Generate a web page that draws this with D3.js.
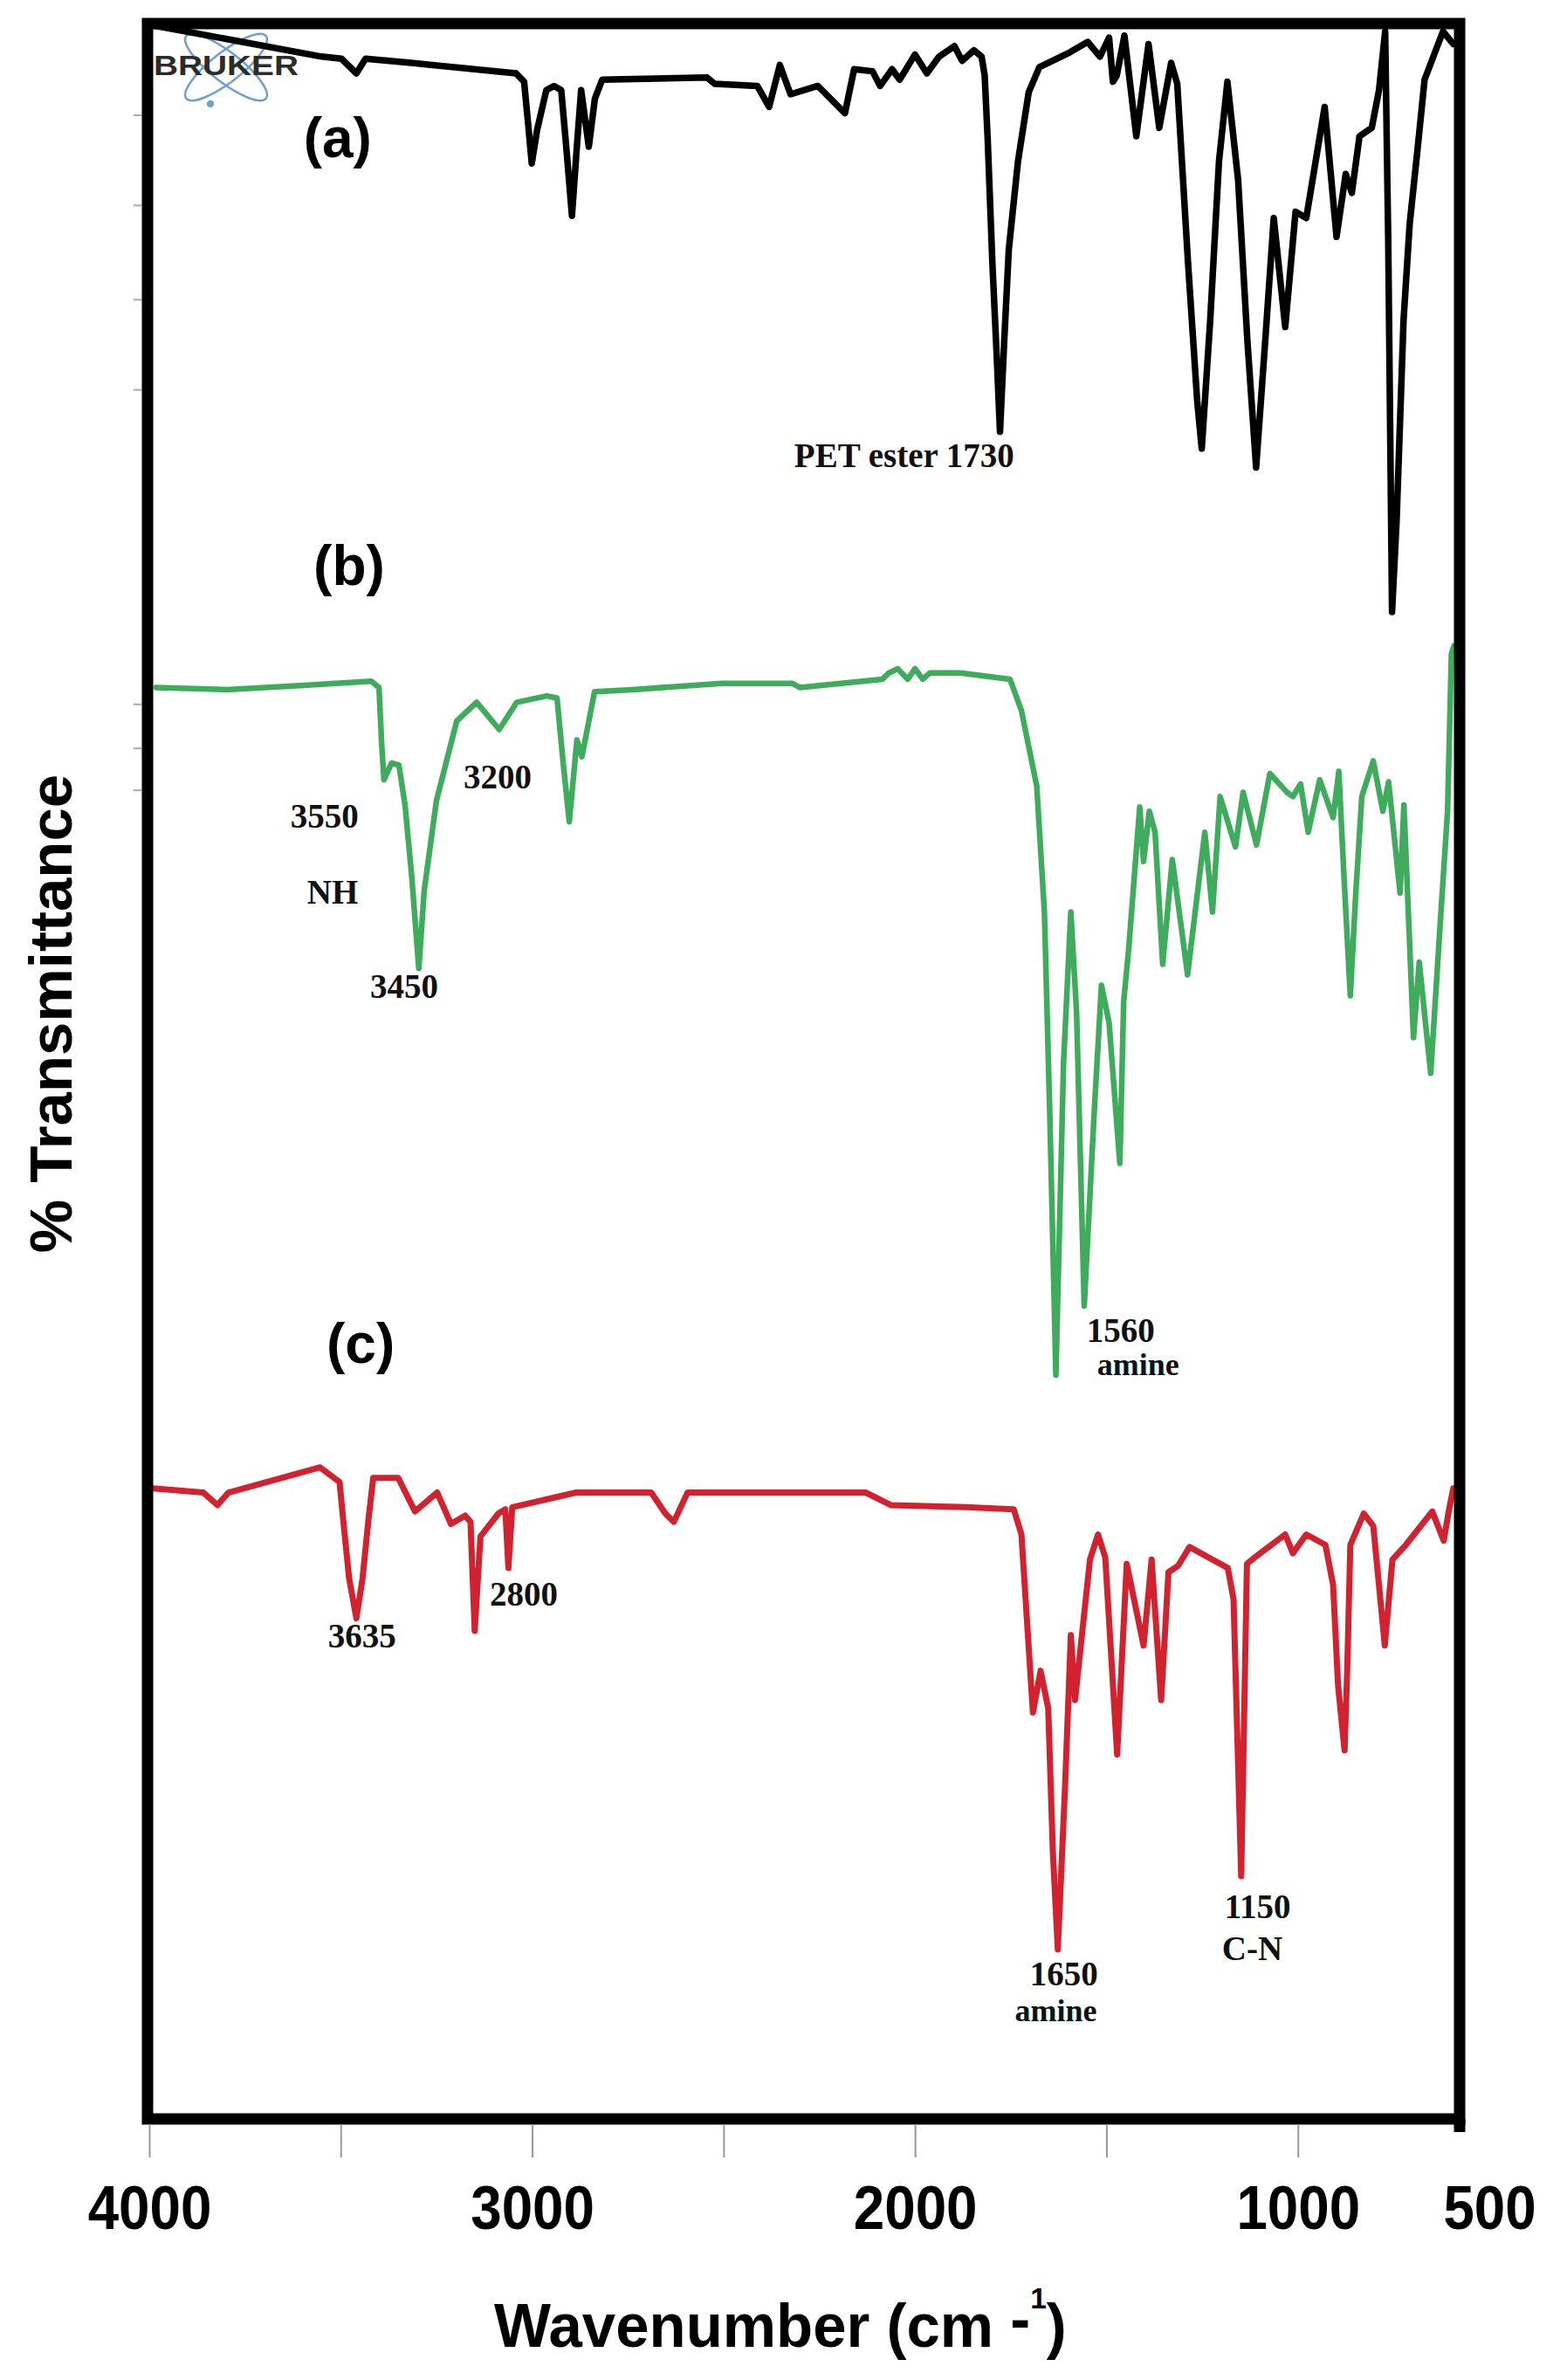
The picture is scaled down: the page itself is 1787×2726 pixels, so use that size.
<!DOCTYPE html>
<html>
<head>
<meta charset="utf-8">
<style>
  body { margin: 0; background: #fff; }
  svg { display: block; background: #fff; }
  .tick-label { font: bold 70px "Liberation Sans", Arial, sans-serif; fill: #000; }
  .axis-title { font: bold 70px "Liberation Sans", Arial, sans-serif; fill: #000; }
  .panel { font: bold 64px "Liberation Sans", Arial, sans-serif; fill: #000; }
  .note { font: bold 39px "Liberation Serif", "Times New Roman", serif; fill: #111; }
  .spec { fill: none; stroke-linejoin: round; stroke-linecap: round; }
</style>
<script src="https://cdn.jsdelivr.net/npm/d3@7/dist/d3.min.js"></script>
</head>
<body>
<svg width="1787" height="2726"></svg>
<script>
// (a) PET, offset transmittance
var wnA = [3994, 3550, 3498, 3459, 3435, 3316, 3042, 3021, 3011, 3001, 2987, 2963, 2943, 2924, 2910, 2896, 2884, 2872, 2852, 2836,
           2817, 2543, 2523, 2412, 2381, 2353, 2325, 2254, 2183, 2159, 2111, 2091, 2060, 2040, 2000, 1969, 1937, 1897, 1877, 1846,
           1826, 1818, 1810, 1798, 1786, 1778, 1767, 1755, 1731, 1703, 1675, 1596, 1549, 1517, 1493, 1483, 1473, 1453, 1422, 1390,
           1362, 1331, 1315, 1287, 1263, 1251, 1229, 1206, 1184, 1156, 1132, 1109, 1085, 1063, 1033, 1006, 978, 930, 899, 875,
           859, 839, 807, 788, 772, 764, 754, 742, 724, 708, 685, 669, 621, 594];
var tA = [99.8, 98.3, 98.2, 97.5, 98.2, 98.0, 97.5, 97.1, 95.2, 93.2, 94.8, 96.7, 96.9, 96.7, 93.8, 90.7, 93.8, 96.7, 94.0, 96.3,
          97.2, 97.3, 97.0, 96.9, 95.9, 97.9, 96.5, 96.9, 95.6, 97.7, 97.6, 96.9, 97.7, 97.2, 98.4, 97.5, 98.3, 98.8, 98.1, 98.6,
          98.3, 97.4, 94.3, 88.5, 83.8, 80.4, 84.7, 89.1, 93.3, 96.6, 97.8, 98.5, 99.0, 98.3, 99.2, 97.1, 97.4, 99.3, 94.5, 98.9,
          94.9, 98.0, 97.0, 88.5, 81.9, 79.6, 85.7, 93.3, 97.1, 92.4, 84.8, 78.7, 84.8, 90.6, 85.4, 90.9, 90.6, 95.9, 89.7, 92.7,
          91.8, 94.5, 94.9, 96.7, 99.5, 89.6, 71.8, 76.2, 85.7, 90.3, 94.3, 97.2, 99.5, 98.9];

// (b)
var wnB = [3982, 3799, 3597, 3420, 3400, 3393, 3387, 3367, 3348, 3332, 3315, 3296, 3282, 3250, 3197, 3145, 3086, 3040, 2962, 2935,
           2920, 2903, 2883, 2870, 2837, 2739, 2504, 2320, 2301, 2085, 2068, 2045, 2019, 2000, 1980, 1961, 1882, 1752, 1722, 1682,
           1662, 1648, 1632, 1612, 1593, 1578, 1558, 1532, 1513, 1493, 1465, 1455, 1442, 1413, 1403, 1388, 1373, 1353, 1328, 1288,
           1243, 1223, 1203, 1163, 1143, 1108, 1073, 1028, 1013, 993, 973, 943, 908, 893, 879, 863, 849, 833, 803, 778,
           763, 733, 723, 698, 683, 653, 628, 609, 599, 592];
var tB = [68.2, 68.1, 68.3, 68.5, 68.2, 65.5, 63.8, 64.6, 64.5, 62.6, 59.3, 54.8, 58.5, 62.8, 66.6, 67.5, 66.2, 67.5, 67.8, 67.7,
          64.8, 61.8, 65.7, 64.9, 68.0, 68.1, 68.4, 68.4, 68.2, 68.6, 68.9, 69.1, 68.6, 69.1, 68.6, 68.9, 68.9, 68.6, 67.1, 63.5,
          57.5, 47.9, 35.4, 50.3, 57.5, 52.7, 38.7, 47.9, 54.0, 52.2, 45.5, 53.2, 55.7, 62.5, 59.9, 62.3, 61.3, 55.0, 60.0, 54.5,
          61.3, 57.5, 63.0, 60.6, 63.2, 60.7, 64.1, 63.2, 63.0, 63.6, 61.3, 63.8, 62.0, 64.2, 59.0, 53.5, 58.3, 63.0, 64.7, 62.3,
          63.7, 58.4, 62.6, 51.5, 55.1, 49.8, 57.0, 62.3, 69.8, 70.2];

// (c)
var wnC = [3990, 3859, 3822, 3793, 3554, 3503, 3494, 3478, 3459, 3443, 3427, 3415, 3350, 3306, 3248, 3212, 3175, 3161, 3150, 3135,
           3088, 3070, 3062, 3052, 2885, 2689, 2652, 2630, 2594, 2129, 2063, 1867, 1742, 1722, 1692, 1672, 1652, 1640, 1627, 1608,
           1593, 1582, 1543, 1522, 1503, 1472, 1447, 1403, 1382, 1357, 1338, 1313, 1283, 1183, 1168, 1148, 1133, 1113, 1033, 1013,
           978, 928, 908, 895, 878, 871, 863, 828, 803, 773, 753, 718, 649, 619, 605, 594];
var tC = [30.0, 29.8, 29.2, 29.8, 31.0, 30.3, 28.6, 25.7, 23.8, 25.7, 28.6, 30.5, 30.5, 28.9, 29.8, 28.3, 28.7, 28.4, 23.2, 27.7,
          28.8, 29.0, 26.2, 29.1, 29.8, 29.8, 28.8, 28.4, 29.8, 29.8, 29.2, 29.1, 29.0, 27.8, 19.3, 21.3, 19.5, 12.7, 8.0, 15.8,
          23.0, 19.9, 26.6, 27.8, 26.7, 17.3, 26.4, 22.5, 26.6, 19.9, 26.0, 26.3, 27.2, 26.2, 24.7, 11.5, 26.4, 26.7, 27.8, 26.9,
          27.8, 27.3, 25.4, 20.6, 17.5, 21.4, 27.3, 28.8, 28.2, 22.5, 26.6, 27.3, 28.9, 27.5, 29.0, 30.0];

var xTickMarks = [4000, 3500, 3000, 2500, 2000, 1500, 1000];
var xTickLabels = [4000, 3000, 2000, 1000, 500];
var leftTicks = [95.5, 91.2, 86.7, 82.4, 67.4, 65.3, 63.3];

// peak notes: text, wavenumber, transmittance (where the text sits)
var noteText = ["PET ester 1730", "3550", "NH", "3450", "3200", "1560", "amine", "3635", "2800", "1650", "amine", "1150", "C-N"];
var noteWn   = [2028, 3542, 3521, 3334, 3090, 1463, 1417, 3444, 3022, 1611, 1632, 1105, 1119];
var noteT    = [78.7, 61.5, 57.9, 53.4, 63.4, 37.0, 35.4, 22.4, 24.4, 6.3, 4.6, 9.5, 7.5];
var noteSize = [39, 39, 39, 39, 39, 39, 36, 39, 39, 39, 36, 39, 39];

var panelText = ["(a)", "(b)", "(c)"];
var panelWn   = [3508, 3478, 3448];
var panelT    = [93.5, 73.1, 36.0];

var svg = d3.select("svg");

var frameL = 169, frameR = 1672, frameT = 27, frameB = 2427;

var x = d3.scaleLinear().domain([4000, 500]).range([171, 1706]);
var y = d3.scaleLinear().domain([0, 100]).range([2425, 24]);

// bruker logo
var logo = svg.append("g").attr("transform", "translate(259,77)");
[38, -38].forEach(function(a) {
    logo.append("ellipse")
        .attr("rx", 58).attr("ry", 17)
        .attr("transform", "rotate(" + a + ")")
        .attr("fill", "none")
        .attr("stroke", "#6f9fca")
        .attr("stroke-width", 2.5);
});
logo.append("circle").attr("cx", -18).attr("cy", 42).attr("r", 4).attr("fill", "#6f9fca");
svg.append("text")
   .attr("x", 176).attr("y", 86)
   .attr("textLength", 166)
   .attr("lengthAdjust", "spacingAndGlyphs")
   .style("font", "bold 31px 'Liberation Sans', Arial, sans-serif")
   .style("fill", "#2b2b2b")
   .text("BRUKER");

var line = d3.line()
    .x(function(d) { return x(d[0]); })
    .y(function(d) { return y(d[1]); });

var series = [
    { w: wnA, t: tA, color: "#000000", width: 7.5 },
    { w: wnB, t: tB, color: "#3fab5c", width: 6.5 },
    { w: wnC, t: tC, color: "#d0222f", width: 7 }
];

svg.selectAll(".spec")
   .data(series)
   .enter().append("path")
   .attr("class", "spec")
   .attr("d", function(s) { return line(d3.zip(s.w, s.t)); })
   .attr("stroke", function(s) { return s.color; })
   .attr("stroke-width", function(s) { return s.width; });

// frame
svg.append("rect")
   .attr("x", frameL).attr("y", frameT)
   .attr("width", frameR - frameL).attr("height", frameB - frameT)
   .attr("fill", "none")
   .attr("stroke", "#000")
   .attr("stroke-width", 13);
svg.append("line")
   .attr("x1", frameR).attr("x2", frameR)
   .attr("y1", frameB).attr("y2", frameB + 15)
   .attr("stroke", "#000")
   .attr("stroke-width", 13);

// faint ticks on the left edge
svg.selectAll(".lt")
   .data(leftTicks)
   .enter().append("line")
   .attr("class", "lt")
   .attr("x1", 153).attr("x2", 162)
   .attr("y1", function(d) { return y(d); })
   .attr("y2", function(d) { return y(d); })
   .attr("stroke", "#aaa")
   .attr("stroke-width", 2);

// bottom tick marks
var tickAxis = svg.append("g")
   .attr("transform", "translate(0," + (frameB + 6) + ")")
   .call(d3.axisBottom(x).tickValues(xTickMarks).tickSize(38).tickFormat(""));
tickAxis.select(".domain").remove();
tickAxis.selectAll("line").attr("stroke", "#999").attr("stroke-width", 2);

// tick labels
var labelAxis = svg.append("g")
   .attr("transform", "translate(0,2553)")
   .call(d3.axisBottom(x).tickValues(xTickLabels).tickSize(0).tickFormat(d3.format("d")));
labelAxis.select(".domain").remove();
labelAxis.attr("font-size", null).attr("font-family", null);
labelAxis.selectAll("text")
   .attr("class", "tick-label")
   .attr("y", 0).attr("dy", 0)
   .attr("transform", "scale(0.91,1)");

// axis titles
var xt = svg.append("text")
   .attr("class", "axis-title")
   .attr("transform", "translate(566,2688) scale(0.985,1)");
xt.append("tspan").text("Wavenumber (cm ");
xt.append("tspan").attr("dy", -8).text("-");
xt.append("tspan").attr("font-size", 34).attr("dy", -36).text("1");
xt.append("tspan").attr("dy", 44).text(")");

svg.append("text")
   .attr("class", "axis-title")
   .attr("transform", "translate(82,1161) rotate(-90)")
   .attr("text-anchor", "middle")
   .style("font-size", "69px")
   .text("% Transmittance");

// panel letters
svg.selectAll(".panel")
   .data(panelText)
   .enter().append("text")
   .attr("class", "panel")
   .attr("text-anchor", "middle")
   .attr("x", function(d, i) { return x(panelWn[i]); })
   .attr("y", function(d, i) { return y(panelT[i]); })
   .text(function(d) { return d; });

// peak notes
svg.selectAll(".note")
   .data(noteText)
   .enter().append("text")
   .attr("class", "note")
   .attr("text-anchor", "middle")
   .attr("x", function(d, i) { return x(noteWn[i]); })
   .attr("y", function(d, i) { return y(noteT[i]); })
   .style("font-size", function(d, i) { return noteSize[i] + "px"; })
   .text(function(d) { return d; });
</script>
</body>
</html>
